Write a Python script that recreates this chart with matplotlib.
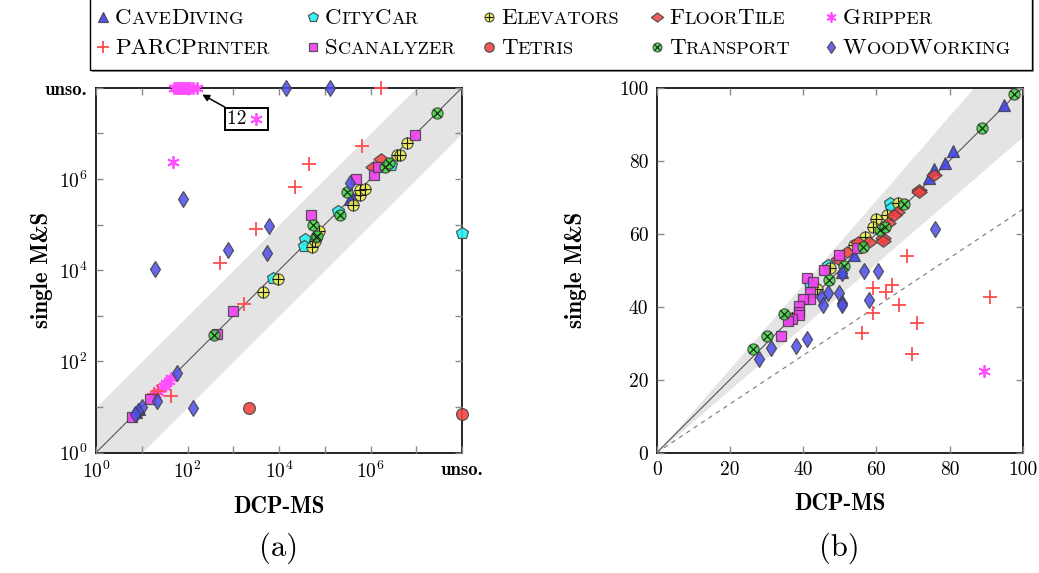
import re
import numpy as np
import matplotlib
matplotlib.use("Agg")
import matplotlib.pyplot as plt
from matplotlib.lines import Line2D
from matplotlib.patches import Rectangle
from matplotlib.ticker import FixedLocator, FixedFormatter, NullLocator

plt.rcParams["font.family"] = ["cmr10", "DejaVu Sans"]
plt.rcParams["mathtext.fontset"] = "cm"
plt.rcParams["axes.unicode_minus"] = False
plt.rcParams["axes.formatter.use_mathtext"] = True

W, H = 1039, 573
UNSO = 8.0  # log10 position used for "unsolved"

# ---------------- data: (a) expansions, log10(DCP-MS), log10(single M&S) ----
cave_a = [(0.88, 0.90), (0.95, 0.96), (5.59, 5.61), (5.56, 5.57)]
citycar_a = [(3.87, 3.82), (4.57, 4.68), (4.55, 4.52), (5.30, 5.30),
             (6.44, 6.30), (UNSO, 4.82)]
elevators_a = [(3.66, 3.53), (3.97, 3.80), (4.73, 4.50), (4.87, 4.85),
               (4.78, 4.64), (5.61, 5.43), (5.76, 5.65), (5.77, 5.76),
               (5.89, 5.78), (6.57, 6.53), (6.64, 6.53), (6.80, 6.79)]
floortile_a = [(6.24, 6.43), (6.06, 6.27)]
gripper_a = [(1.70, UNSO), (1.74, UNSO), (1.78, UNSO), (1.82, UNSO),
             (1.86, UNSO), (1.90, UNSO), (1.94, UNSO), (1.98, UNSO),
             (2.02, UNSO), (2.06, UNSO), (2.12, UNSO), (2.20, UNSO),
             (1.69, 6.37), (1.30, 1.28), (1.36, 1.34), (1.42, 1.41),
             (1.48, 1.47), (1.54, 1.53), (1.60, 1.58), (1.65, 1.63)]
parc_a = [(6.24, UNSO), (2.71, 4.15), (3.49, 4.90), (4.35, 5.82),
          (4.66, 6.33), (5.81, 6.72), (3.24, 3.25), (1.64, 1.24),
          (1.36, 1.36), (1.27, 1.28)]
scanalyzer_a = [(0.78, 0.78), (1.18, 1.18), (2.64, 2.60), (3.00, 3.11),
                (4.71, 5.21), (5.68, 6.00), (6.08, 6.09), (6.17, 6.27),
                (6.97, 6.97)]
tetris_a = [(3.34, 0.99), (UNSO, 0.84)]
transport_a = [(2.59, 2.57), (4.75, 4.99), (4.80, 4.72), (4.82, 4.76),
               (5.33, 5.21), (5.49, 5.72), (6.32, 6.27), (6.41, 6.34),
               (7.45, 7.44)]
woodworking_a = [(4.16, UNSO), (5.11, UNSO), (1.91, 5.55), (1.29, 4.03),
                 (2.88, 4.45), (3.78, 4.97), (3.73, 4.37), (1.76, 1.74),
                 (1.34, 1.13), (2.13, 0.99), (1.00, 1.00), (0.92, 0.92),
                 (0.85, 0.85), (5.55, 5.91)]

# ---------------- data: (b) coverage in percent ------------------------------
cave_b = [(95.0, 95.3), (80.9, 82.7), (78.8, 79.3), (75.8, 77.6),
          (74.5, 75.2), (54.0, 54.2), (50.5, 49.6)]
citycar_b = [(63.7, 68.3), (63.9, 67.1), (46.9, 51.4), (41.8, 46.2)]
elevators_b = [(65.8, 68.3), (62.8, 65.1), (59.9, 64.0), (59.0, 61.9),
               (56.9, 59.2), (54.0, 56.8), (47.3, 50.6), (43.9, 44.9),
               (37.0, 37.0)]
floortile_b = [(75.8, 76.1), (71.8, 72.0), (71.8, 71.3), (65.6, 66.0),
               (64.7, 65.1), (63.3, 62.8), (61.9, 58.9), (61.9, 58.1),
               (58.1, 57.8), (55.1, 57.8), (51.9, 55.1), (49.6, 53.1)]
gripper_b = [(89.4, 22.5)]
parc_b = [(68.3, 54.0), (59.0, 45.0), (62.7, 44.1), (64.2, 45.9),
          (59.0, 38.4), (56.2, 32.7), (66.3, 40.5), (71.0, 35.5),
          (69.7, 27.0), (91.1, 42.7)]
scanalyzer_b = [(54.6, 56.2), (49.8, 54.2), (45.8, 50.1), (41.0, 48.0),
                (42.8, 46.9), (42.0, 43.9), (42.0, 42.0), (39.9, 42.0),
                (39.0, 40.1), (38.9, 38.6), (38.9, 37.7), (36.9, 36.7),
                (35.9, 36.2), (33.9, 32.0)]
tetris_b = []
transport_b = [(97.7, 98.3), (88.8, 89.0), (67.6, 68.1), (61.0, 61.0),
               (62.4, 61.9), (56.4, 56.4), (51.3, 51.2), (47.2, 47.2),
               (34.9, 38.0), (30.1, 32.1), (26.2, 28.3)]
woodworking_b = [(76.0, 61.3), (56.7, 49.9), (60.5, 49.9), (50.5, 49.3),
                 (46.9, 43.7), (49.7, 43.7), (44.9, 42.6), (45.4, 40.5),
                 (50.6, 41.1), (50.6, 40.6), (58.1, 41.8), (41.2, 31.1),
                 (38.1, 29.3), (31.1, 28.8), (28.0, 25.6)]

domains = ["CaveDiving", "CityCar", "Elevators", "FloorTile", "Gripper",
           "PARCPrinter", "Scanalyzer", "Tetris", "Transport", "WoodWorking"]
series_a = [cave_a, citycar_a, elevators_a, floortile_a, gripper_a,
            parc_a, scanalyzer_a, tetris_a, transport_a, woodworking_a]
series_b = [cave_b, citycar_b, elevators_b, floortile_b, gripper_b,
            parc_b, scanalyzer_b, tetris_b, transport_b, woodworking_b]

# ---------------- marker styles -----------------------------------------------
EDGE = (0.25, 0.25, 0.25, 0.85)
WIDE_DIAMOND = [(-1, 0), (0, 0.75), (1, 0), (0, -0.75), (-1, 0)]
STYLES = {
    "CaveDiving": dict(marker="^", mfc=(0.25, 0.25, 0.92, 0.9), ms=8.5),
    "CityCar": dict(marker="p", mfc=(0.15, 0.95, 0.95, 0.9), ms=9),
    "Elevators": dict(marker="o", mfc=(0.95, 0.95, 0.25, 0.85), ms=8,
                      inner="+", inner_ms=8),
    "FloorTile": dict(marker=WIDE_DIAMOND, mfc=(0.95, 0.25, 0.25, 0.85), ms=11),
    "Gripper": dict(marker=(6, 2, 0), color=(1.0, 0.3, 1.0), ms=9, mew=1.3),
    "PARCPrinter": dict(marker="+", color=(1.0, 0.3, 0.3), ms=10, mew=1.3),
    "Scanalyzer": dict(marker="s", mfc=(0.95, 0.25, 0.95, 0.9), ms=7.5),
    "Tetris": dict(marker="o", mfc=(0.95, 0.28, 0.28, 0.9), ms=8.5),
    "Transport": dict(marker="o", mfc=(0.25, 0.85, 0.25, 0.85), ms=8,
                      inner="x", inner_ms=5.5),
    "WoodWorking": dict(marker="d", mfc=(0.3, 0.3, 0.92, 0.85), ms=8),
}


def marker_kwargs(name):
    st = STYLES[name]
    if "color" in st:
        return [dict(marker=st["marker"], ls="none", color=st["color"],
                     ms=st["ms"], mew=st["mew"])]
    out = [dict(marker=st["marker"], ls="none", mfc=st["mfc"], mec=EDGE,
                ms=st["ms"], mew=0.9)]
    if "inner" in st:
        out.append(dict(marker=st["inner"], ls="none", color=(0.1, 0.1, 0.1),
                        ms=st["inner_ms"], mew=0.8))
    return out


def scatter(ax, pts, name, logscale):
    if not pts:
        return
    xs = np.array([p[0] for p in pts], dtype=float)
    ys = np.array([p[1] for p in pts], dtype=float)
    if logscale:
        xs, ys = 10.0 ** xs, 10.0 ** ys
    for kw in marker_kwargs(name):
        ax.plot(xs, ys, clip_on=False, zorder=3, **kw)


fig = plt.figure(figsize=(W / 100, H / 100), dpi=100)

ax_a = fig.add_axes([96 / W, 1 - 452.7 / H, 366 / W, 365 / H])
ax_b = fig.add_axes([656.7 / W, 1 - 452.7 / H, 366 / W, 365 / H])

TICK_GRAY = "#8a8a8a"

# ---------------- panel (a) ---------------------------------------------------
ax_a.set_xscale("log")
ax_a.set_yscale("log")
ax_a.set_xlim(1, 1e8)
ax_a.set_ylim(1, 1e8)
xx = np.logspace(0, 8, 200)
ax_a.fill_between(xx, xx / 10, xx * 10, color="#e4e4e4", lw=0, zorder=0)
ax_a.plot([1, 1e8], [1, 1e8], color="#555555", lw=0.8, zorder=1)

dec_ticks = [10.0 ** k for k in range(9)]
dec_labels = [r"$10^{0}$", "", r"$10^{2}$", "", r"$10^{4}$", "", r"$10^{6}$", "", "unso."]
for axis in (ax_a.xaxis, ax_a.yaxis):
    axis.set_major_locator(FixedLocator(dec_ticks))
    axis.set_major_formatter(FixedFormatter(dec_labels))
    axis.set_minor_locator(NullLocator())

for name, pts in zip(domains, series_a):
    scatter(ax_a, pts, name, True)

# annotation for the stacked unsolved Gripper tasks
ax_a.annotate("12   ", xy=(10 ** 2.27, 10 ** 7.88), xytext=(10 ** 2.86, 10 ** 7.31),
              fontsize=14, ha="left", va="center",
              bbox=dict(boxstyle="square,pad=0.12", fc="white", ec="black", lw=1.4),
              arrowprops=dict(arrowstyle="-|>", color="black", lw=1.1,
                              shrinkA=0, shrinkB=2, mutation_scale=10),
              zorder=5)
ax_a.plot([10 ** 3.49], [10 ** 7.32], marker=(6, 2, 0), color=(1.0, 0.3, 1.0),
          ms=9, mew=1.3, zorder=6)

# ---------------- panel (b) ---------------------------------------------------
ax_b.set_xlim(0, 100)
ax_b.set_ylim(0, 100)
xb = np.linspace(0, 100, 201)
ax_b.fill_between(xb, xb / 1.155, np.minimum(xb * 1.155, 100), color="#e4e4e4",
                  lw=0, zorder=0)
ax_b.plot([0, 100], [0, 100], color="#555555", lw=0.8, zorder=1)
ax_b.plot([0, 100], [0, 200 / 3], color="#777777", lw=0.8,
          ls=(0, (4, 4)), zorder=1)
pct_ticks = [0, 20, 40, 60, 80, 100]
ax_b.set_xticks(pct_ticks)
ax_b.set_yticks(pct_ticks)
ax_b.set_xticklabels([str(t) for t in pct_ticks])
ax_b.set_yticklabels([str(t) for t in pct_ticks])

for name, pts in zip(domains, series_b):
    scatter(ax_b, pts, name, False)

# ---------------- shared axis styling ----------------------------------------
for ax, ylab_x in ((ax_a, -0.117), (ax_b, -0.19)):
    ax.tick_params(which="both", direction="in", length=5, width=1,
                   color=TICK_GRAY, top=True, right=True, labelsize=14, pad=6)
    for sp in ax.spines.values():
        sp.set_linewidth(1.2)
    ax.set_xlabel("DCP-MS", fontfamily="cmb10", fontsize=16.5, labelpad=10)
    ax.set_ylabel("single M&S", fontfamily="cmb10", fontsize=16.5)
    ax.yaxis.set_label_coords(ylab_x, 0.5)
    ax.set_axisbelow(False)

for lab in (ax_a.get_xticklabels()[-1], ax_a.get_yticklabels()[-1]):
    lab.set_fontfamily("cmb10")
    lab.set_fontsize(13.5)

fig.text(279 / W, 1 - 548 / H, "(a)", fontsize=22, ha="center", va="center")
fig.text(839.7 / W, 1 - 548 / H, "(b)", fontsize=22, ha="center", va="center")

# ---------------- legend with small-capital labels ---------------------------
shadow = Rectangle((92 / W, 1 - 72 / H), 942 / W, 80 / H, transform=fig.transFigure,
                   fc="#9a9a9a", ec="none", zorder=9)
frame = Rectangle((90 / W, 1 - 70 / H), 942 / W, 80 / H, transform=fig.transFigure,
                  fc="white", ec="black", lw=1.0, zorder=10)
fig.add_artist(shadow)
fig.add_artist(frame)

renderer = fig.canvas.get_renderer()
LEG_SIZE = 16.5
SMALL = 0.8


def smallcaps(x_px, y_px, word):
    x = x_px
    for chunk in re.findall(r"[A-Z]+|[^A-Z]+", word):
        big = chunk.isupper()
        t = fig.text(x / W, 1 - y_px / H, chunk.upper(),
                     fontsize=LEG_SIZE if big else LEG_SIZE * SMALL,
                     ha="left", va="baseline", zorder=12)
        x += t.get_window_extent(renderer).width


col_x = [103, 313, 489, 657, 831]
row_y = [17, 47]
for i, name in enumerate(domains):
    r, c = divmod(i, 5)
    mx, my = col_x[c], row_y[r]
    for kw in marker_kwargs(name):
        kw = dict(kw)
        kw["ms"] = kw["ms"] * 0.8
        fig.add_artist(Line2D([mx / W], [1 - my / H], transform=fig.transFigure,
                              zorder=12, **kw))
    smallcaps(mx + 12, my + 7.5, name)

fig.savefig("out.png", dpi=100)
